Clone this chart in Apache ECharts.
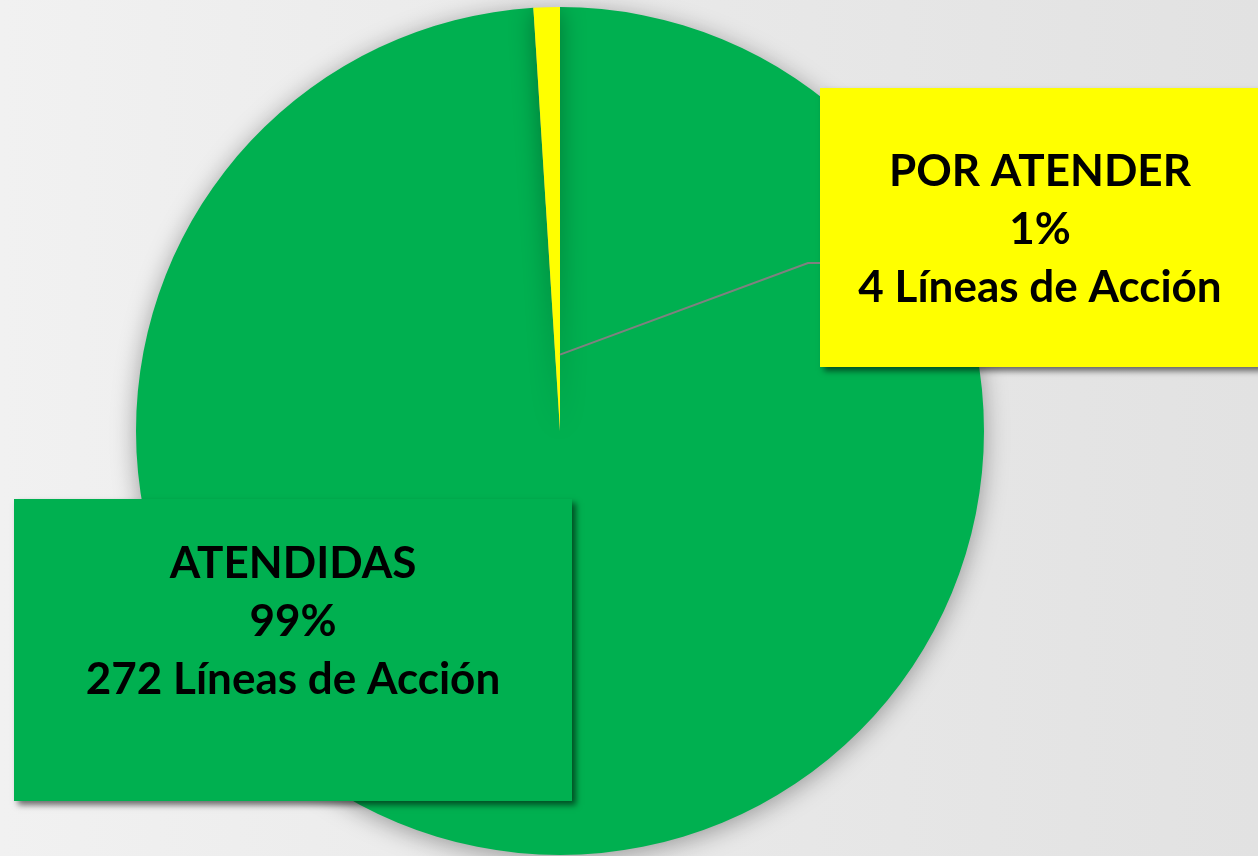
<!DOCTYPE html>
<html>
<head>
<meta charset="utf-8">
<title>Líneas de Acción</title>
<script src="https://cdn.jsdelivr.net/npm/echarts@6/dist/echarts.min.js"></script>
<style>
  html, body { margin: 0; padding: 0; }
  #chart { width: 1258px; height: 856px; }
</style>
</head>
<body>
<div id="chart"></div>
<script>
// datos
var categorias = ['ATENDIDAS', 'POR ATENDER'];
var porcentajes = [99, 1];
var lineasAccion = [272, 4];
var colores = ['#00B050', '#FFFF00'];

var myChart = echarts.init(document.getElementById('chart'));

var cx = 560, cy = 431, r = 424;

// cajas de etiqueta (posicion y tamano)
var cajas = [
  { x: 293, y: 499, width: 558, padding: [36, 0, 92, 0] },
  { x: 1040, y: 88, width: 440, padding: [55, 0, 50, 0] }
];

var data = categorias.map(function (name, i) {
  return {
    name: name,
    value: porcentajes[i],
    itemStyle: { color: colores[i] },
    label: {
      backgroundColor: colores[i],
      width: cajas[i].width,
      padding: cajas[i].padding,
      shadowColor: 'rgba(0,0,0,0.55)',
      shadowBlur: 6,
      shadowOffsetX: 4,
      shadowOffsetY: 4
    }
  };
});

// linea guia de POR ATENDER
var cajaPA = cajas[1];
var izq = cajaPA.x - cajaPA.width / 2;
var medioY = cajaPA.y + 175;

var option = {
  backgroundColor: {
    type: 'linear', x: 0, y: 0, x2: 1, y2: 0,
    colorStops: [
      { offset: 0, color: '#f1f1f1' },
      { offset: 0.5, color: '#e9e9e9' },
      { offset: 1, color: '#e2e2e2' }
    ]
  },
  animation: false,
  graphic: [
    {
      type: 'polyline',
      z: 5,
      silent: true,
      shape: { points: [[cx, cy - r * 0.18], [izq - 12, medioY], [izq, medioY]] },
      style: { stroke: '#808080', lineWidth: 2, fill: null }
    }
  ],
  series: [
    {
      type: 'pie',
      z: 2,
      center: [cx, cy],
      radius: r,
      startAngle: 90,
      clockwise: true,
      avoidLabelOverlap: false,
      silent: true,
      itemStyle: {
        borderWidth: 0,
        shadowColor: 'rgba(0,0,0,0.35)',
        shadowBlur: 24,
        shadowOffsetY: 4
      },
      label: {
        show: true,
        position: 'outside',
        color: '#000',
        fontFamily: 'Lato',
        fontWeight: 'bold',
        fontSize: 44,
        lineHeight: 58,
        align: 'center',
        formatter: function (p) {
          return p.name + '\n' + porcentajes[p.dataIndex] + '%\n' +
            lineasAccion[p.dataIndex] + ' Líneas de Acción';
        }
      },
      labelLine: { show: false },
      labelLayout: function (params) {
        var c = cajas[params.dataIndex];
        return { x: c.x, y: c.y, align: 'center', verticalAlign: 'top' };
      },
      data: data
    }
  ]
};

myChart.setOption(option);
</script>
</body>
</html>
